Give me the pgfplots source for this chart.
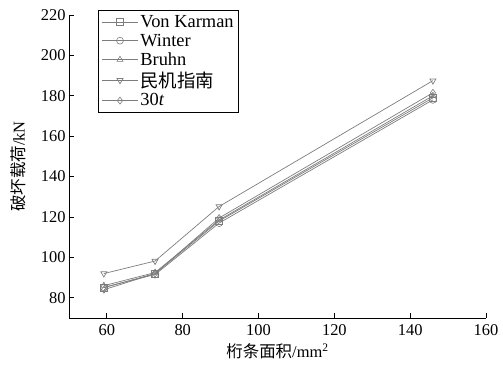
\documentclass[border=0pt]{standalone}
\usepackage{fontspec}
\setmainfont{Liberation Serif}
\newfontfamily\cjk{Noto Sans CJK SC}
\usepackage{pgfplots}
\pgfplotsset{compat=1.18}
\definecolor{lg}{RGB}{125,125,125}
\begin{document}
\begin{tikzpicture}
\begin{axis}[
  name=ax,
  scale only axis,
  width=417bp, height=303bp,
  xmin=50, xmax=160, ymin=70, ymax=220,
  xtick={60,80,...,160}, ytick={80,100,...,220},
  axis lines=left,
  axis line style={-, line width=0.9pt},
  major tick length=5bp,
  tick style={black, line width=0.9pt},
  tick align=inside,
  /pgf/number format/assume math mode=true,
  tick label style={font=\fontsize{16.5}{18}\selectfont},
  xticklabel style={yshift=-3bp},
  label style={font=\fontsize{16.5}{18}\selectfont},
  xlabel={{\cjk 桁条面积}/mm\textsuperscript{2}},
  ylabel={{\cjk 破坏载荷}/kN},
  xlabel style={yshift=-1bp},
  ylabel style={yshift=8bp},
  legend style={at={(rel axis cs:0.07,1.017)}, anchor=north west,
    font=\fontsize{18.5}{19}\selectfont, draw=black, line width=0.9pt,
    row sep=1pt, inner sep=3pt},
  legend cell align=left,
  legend image code/.code={\draw[mark repeat=2,mark phase=2] plot coordinates {(0bp,0bp) (18bp,0bp) (36bp,0bp)};},
  every axis plot/.append style={lg, line width=0.7pt, mark size=3.5pt, mark options={solid, fill=white, line width=0.6pt}},
]
\addplot[mark=square] coordinates {(59.2,85) (72.7,92) (89.6,118) (146,179)};
\addlegendentry{Von Karman}
\addplot[mark=o] coordinates {(59.2,85.2) (72.7,91.5) (89.6,117) (146,178)};
\addlegendentry{Winter}
\addplot[mark=triangle] coordinates {(59.2,86) (72.7,92.5) (89.6,118.5) (146,180)};
\addlegendentry{Bruhn}
\addplot[mark=triangle, mark options={rotate=180}] coordinates {(59.2,92) (72.7,98.2) (89.6,125.2) (146,187.5)};
\addlegendentry{{\cjk 民机指南}}
\addplot[mark=diamond] coordinates {(59.2,84) (72.7,92) (89.6,119.5) (146,181.5)};
\addlegendentry{30\textit{t}}
\end{axis}
\pgfresetboundingbox
\path[use as bounding box] ([xshift=-69bp,yshift=-52bp]ax.south west) rectangle ([xshift=17bp,yshift=15bp]ax.north east);
\end{tikzpicture}
\end{document}
